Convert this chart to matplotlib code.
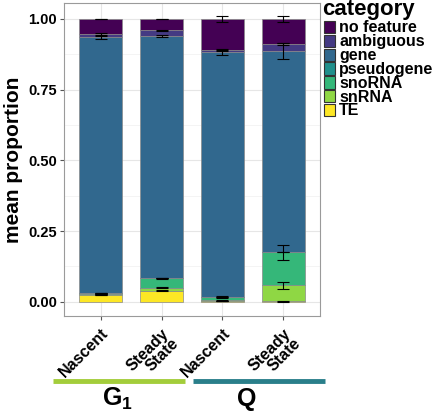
import numpy as np
import matplotlib
matplotlib.use("Agg")
import matplotlib.pyplot as plt
from matplotlib.patches import Rectangle
from matplotlib.ticker import MultipleLocator

plt.rcParams['font.family'] = ['Liberation Sans', 'DejaVu Sans']
plt.rcParams['font.weight'] = 'bold'
plt.rcParams['mathtext.fontset'] = 'custom'
plt.rcParams['mathtext.bf'] = 'Liberation Sans:bold'
plt.rcParams['mathtext.rm'] = 'Liberation Sans:bold'

samples = ['Nascent', 'Steady\nState', 'Nascent', 'Steady\nState']
categories = ['no feature', 'ambiguous', 'gene', 'pseudogene', 'snoRNA', 'snRNA', 'TE']
colors = ['#440154', '#443A83', '#31688E', '#21908C', '#35B779', '#8FD744', '#FDE725']

# mean proportion per category (stack order bottom -> top: TE ... no feature)
te = [0.024, 0.039, 0.002, 0.001]
snrna = [0.002, 0.011, 0.003, 0.057]
snorna = [0.003, 0.032, 0.012, 0.116]
pseudogene = [0.001, 0.001, 0.001, 0.001]
gene = [0.905, 0.857, 0.865, 0.711]
ambiguous = [0.012, 0.020, 0.006, 0.026]
no_feature = [0.053, 0.040, 0.111, 0.088]

# standard errors
te_err = [0.002, 0.002, 0.001, 0.001]
snrna_err = [0.001, 0.003, 0.002, 0.013]
snorna_err = [0.001, 0.002, 0.003, 0.027]
pseudogene_err = [0.0, 0.0, 0.0, 0.0]
gene_err = [0.004, 0.003, 0.012, 0.029]
ambiguous_err = [0.002, 0.002, 0.002, 0.004]
no_feature_err = [0.001, 0.001, 0.012, 0.009]

stack = [te, snrna, snorna, pseudogene, gene, ambiguous, no_feature]
errs = [te_err, snrna_err, snorna_err, pseudogene_err, gene_err, ambiguous_err, no_feature_err]
stack_colors = colors[::-1]

fig = plt.figure(figsize=(4.37, 4.15), dpi=100)
ax = fig.add_axes([64 / 437, 99 / 415, 256 / 437, 313 / 415])

x = np.arange(1, len(samples) + 1)
bottom = np.zeros(len(samples))
for vals, err, c in zip(stack, errs, stack_colors):
    vals = np.array(vals)
    ax.bar(x, vals, width=0.7, bottom=bottom, color=c, edgecolor='#8a8a8a',
           linewidth=0.5, zorder=2)
    top = bottom + vals
    ax.errorbar(x, top, yerr=err, fmt='none', ecolor='black', elinewidth=0.8,
                capsize=4, capthick=0.8, zorder=3)
    bottom = top

ax.set_xlim(0.4, 4.6)
ax.set_ylim(-0.0507, 1.0566)
ax.yaxis.set_minor_locator(MultipleLocator(0.125))
ax.set_yticks([0, 0.25, 0.5, 0.75, 1.0])
ax.set_yticklabels(['0.00', '0.25', '0.50', '0.75', '1.00'])
ax.set_xticks(x)
ax.set_xticklabels(samples, rotation=45, ha='right', va='top',
                   rotation_mode='anchor', fontsize=11.5, fontweight='bold',
                   linespacing=0.9)
ax.tick_params(axis='y', labelsize=10.5, length=3, color='#555555', pad=2)
ax.tick_params(axis='x', length=3, color='#555555', pad=4)
ax.tick_params(which='minor', length=0)
ax.grid(True, which='major', color='#e6e6e6', linewidth=0.8, zorder=0)
ax.grid(True, which='minor', axis='y', color='#f0f0f0', linewidth=0.5, zorder=0)
ax.set_axisbelow(True)
for s in ax.spines.values():
    s.set_color('#9a9a9a')
    s.set_linewidth(0.8)
ax.set_ylabel('mean proportion', fontsize=15, fontweight='bold', labelpad=4)

# legend
fig.text(322 / 437, 1 - 15 / 415, 'category', fontsize=16, fontweight='bold',
         ha='left', va='baseline')
key_h = 13.8
for i, (cat, c) in enumerate(zip(categories, colors)):
    y0 = 21 + i * key_h
    fig.patches.append(Rectangle((324 / 437, 1 - (y0 + 12.5) / 415), 11 / 437, 12.5 / 415,
                                 facecolor=c, edgecolor='#333333', linewidth=0.8,
                                 transform=fig.transFigure, figure=fig))
    fig.text(339 / 437, 1 - (y0 + 7) / 415, cat, fontsize=11.5, fontweight='bold',
             ha='left', va='center')

# condition bars
fig.add_artist(plt.Line2D([53 / 437, 185 / 437], [1 - 381 / 415] * 2, color='#a3cd3b',
                          linewidth=3.5, solid_capstyle='butt'))
fig.add_artist(plt.Line2D([193 / 437, 325 / 437], [1 - 381 / 415] * 2, color='#2a7f8a',
                          linewidth=3.5, solid_capstyle='butt'))
fig.text(117 / 437, 1 - 399 / 415, r'$\mathbf{G_1}$', fontsize=18, ha='center', va='center')
fig.text(247 / 437, 1 - 399 / 415, 'Q', fontsize=18, fontweight='bold', ha='center', va='center')

fig.savefig('out.png', dpi=100)
